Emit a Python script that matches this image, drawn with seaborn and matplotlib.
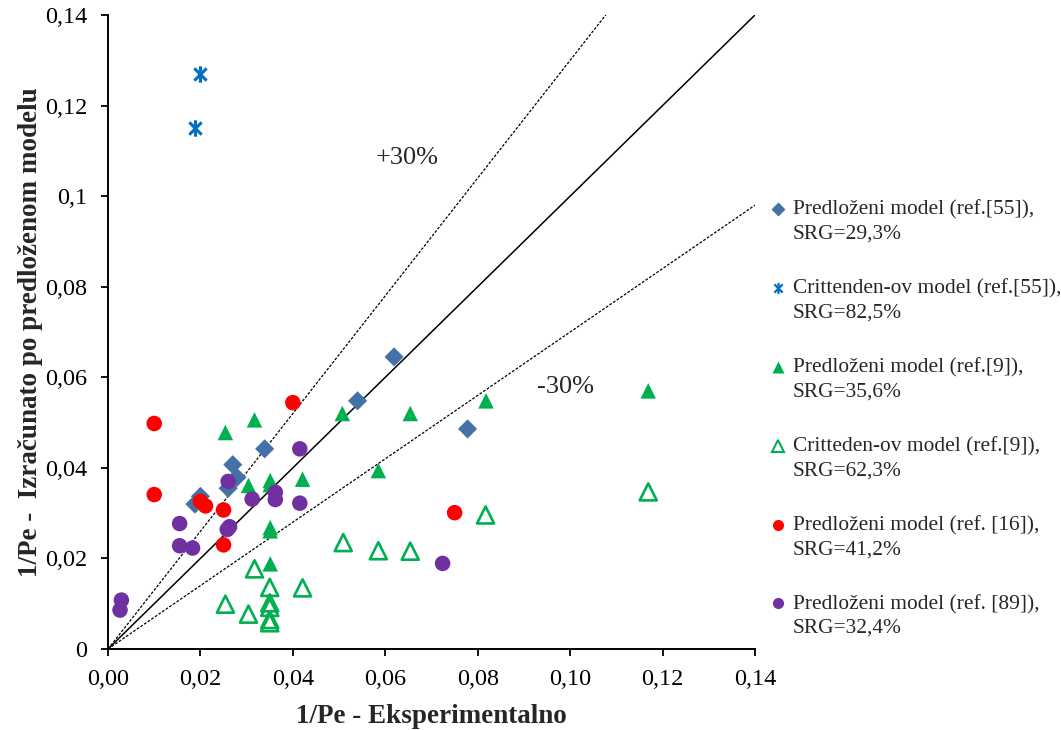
import numpy as np
import pandas as pd
import matplotlib
matplotlib.use("Agg")
import matplotlib.pyplot as plt
from matplotlib.path import Path
from matplotlib.lines import Line2D
from matplotlib.legend_handler import HandlerLine2D
import seaborn as sns

# ---- data ----
dia_x = [0.0188, 0.0200, 0.0270, 0.0279, 0.0260, 0.0339, 0.0540, 0.0619, 0.0778]
dia_y = [0.0320, 0.0337, 0.0407, 0.0379, 0.0355, 0.0442, 0.0548, 0.0645, 0.0486]

star_x = [0.0200, 0.0189]
star_y = [0.1269, 0.1150]

tri_x = [0.0254, 0.0317, 0.0304, 0.0351, 0.0351, 0.0421, 0.0351, 0.0351, 0.0351,
         0.0507, 0.0654, 0.0818, 0.0585, 0.1169]
tri_y = [0.0478, 0.0506, 0.0361, 0.0372, 0.0363, 0.0375, 0.0268, 0.0261, 0.0188,
         0.0520, 0.0520, 0.0548, 0.0394, 0.0570]

otri_x = [0.0254, 0.0317, 0.0304, 0.0350, 0.0350, 0.0350, 0.0350, 0.0350, 0.0421,
          0.0509, 0.0585, 0.0654, 0.0817, 0.1169]
otri_y = [0.0099, 0.0177, 0.0077, 0.0136, 0.0102, 0.0092, 0.0065, 0.0058, 0.0135,
          0.0235, 0.0217, 0.0216, 0.0296, 0.0347]

red_x = [0.0100, 0.0100, 0.0200, 0.0211, 0.0250, 0.0250, 0.0400, 0.0750]
red_y = [0.0498, 0.0341, 0.0326, 0.0316, 0.0307, 0.0230, 0.0544, 0.0301]

pur_x = [0.0029, 0.0026, 0.0155, 0.0155, 0.0183, 0.0260, 0.0263, 0.0258, 0.0312,
         0.0362, 0.0362, 0.0415, 0.0415, 0.0724]
pur_y = [0.0108, 0.0086, 0.0277, 0.0228, 0.0223, 0.0370, 0.0270, 0.0264, 0.0331,
         0.0346, 0.0330, 0.0442, 0.0322, 0.0189]

labels = [
    "Predloženi model (ref.[55]),\nSRG=29,3%",
    "Crittenden-ov model (ref.[55]),\nSRG=82,5%",
    "Predloženi model (ref.[9]),\nSRG=35,6%",
    "Critteden-ov model (ref.[9]),\nSRG=62,3%",
    "Predloženi model (ref. [16]),\nSRG=41,2%",
    "Predloženi model (ref. [89]),\nSRG=32,4%",
]

x_ticks = [0.00, 0.02, 0.04, 0.06, 0.08, 0.10, 0.12, 0.14]
x_tick_labels = ["0,00", "0,02", "0,04", "0,06", "0,08", "0,10", "0,12", "0,14"]
y_ticks = [0, 0.02, 0.04, 0.06, 0.08, 0.10, 0.12, 0.14]
y_tick_labels = ["0", "0,02", "0,04", "0,06", "0,08", "0,1", "0,12", "0,14"]

# ---- style ----
sns.set_theme(style="white")
plt.rcParams['font.family'] = ['Liberation Serif', 'DejaVu Serif']

fig = plt.figure(figsize=(10.61, 7.30), dpi=100)
ax = fig.add_axes([108 / 1061, 81 / 730, 647 / 1061, 634 / 730])

# excel-like star marker: vertical line + X
star_path = Path(
    [(0, -1), (0, 1), (-0.75, -0.75), (0.75, 0.75), (-0.75, 0.75), (0.75, -0.75)],
    [Path.MOVETO, Path.LINETO, Path.MOVETO, Path.LINETO, Path.MOVETO, Path.LINETO])

c_blue = "#4472A8"
c_star = "#0070C0"
c_green = "#00B050"
c_red = "#FF0000"
c_pur = "#7030A0"

# reference lines
lx = np.array([0, 0.14])
ax.plot(lx, lx, color="black", lw=1.1, zorder=1)
ax.plot(lx, 1.3 * lx, color="black", lw=0.9, ls=(0, (2.2, 1.3)), zorder=1)
ax.plot(lx, 0.7 * lx, color="black", lw=0.9, ls=(0, (2.2, 1.3)), zorder=1)

sns.scatterplot(x=dia_x, y=dia_y, marker="D", s=95, color=c_blue, edgecolor="none", ax=ax, zorder=3)
ax.scatter(star_x, star_y, marker=star_path, s=140, color=c_star, linewidths=2.2, zorder=3)
sns.scatterplot(x=tri_x, y=tri_y, marker="^", s=125, color=c_green, edgecolor="none", ax=ax, zorder=3)
ax.scatter(otri_x, otri_y, marker="^", s=150, facecolors="none", edgecolors=c_green, linewidths=1.9, zorder=3)
sns.scatterplot(x=red_x, y=red_y, marker="o", s=125, color=c_red, edgecolor="none", ax=ax, zorder=3)
sns.scatterplot(x=pur_x, y=pur_y, marker="o", s=125, color=c_pur, edgecolor="none", ax=ax, zorder=3)

ax.set_xlim(0, 0.14)
ax.set_ylim(0, 0.14)
ax.set_xticks(x_ticks)
ax.set_xticklabels(x_tick_labels)
ax.set_yticks(y_ticks)
ax.set_yticklabels(y_tick_labels)
ax.tick_params(axis="both", direction="out", length=5, width=1.3, labelsize=17.5,
               bottom=True, left=True, colors="black")
ax.tick_params(axis="y", pad=10)
ax.tick_params(axis="x", pad=9.5)
for side in ["top", "right"]:
    ax.spines[side].set_visible(False)
for side in ["left", "bottom"]:
    ax.spines[side].set_color("black")
    ax.spines[side].set_linewidth(1.4)

ax.set_xlabel("1/Pe - Eksperimentalno", fontsize=19.5, fontweight="bold", labelpad=10)
ax.set_ylabel("1/Pe -  Izračunato po predloženom modelu", fontsize=19.5, fontweight="bold", labelpad=1)

ax.text(0.0648, 0.1085, "+30%", fontsize=19, ha="center", va="center")
ax.text(0.0991, 0.0579, "-30%", fontsize=19, ha="center", va="center")


class UpHandler(HandlerLine2D):
    def __init__(self, dy=9.0, **kw):
        super().__init__(**kw)
        self.dy = dy

    def create_artists(self, legend, orig_handle, xdescent, ydescent, width, height, fontsize, trans):
        artists = super().create_artists(legend, orig_handle, xdescent, ydescent, width, height, fontsize, trans)
        for a in artists:
            yd = np.asarray(a.get_ydata(), dtype=float)
            a.set_ydata(yd + self.dy)
        return artists


handles = [
    Line2D([], [], ls="none", marker="D", ms=7, color=c_blue, mec="none"),
    Line2D([], [], ls="none", marker=star_path, ms=8, mew=1.6, color=c_star),
    Line2D([], [], ls="none", marker="^", ms=8, color=c_green, mec="none"),
    Line2D([], [], ls="none", marker="^", ms=8, mfc="none", mew=1.5, mec=c_green),
    Line2D([], [], ls="none", marker="o", ms=8, color=c_red, mec="none"),
    Line2D([], [], ls="none", marker="o", ms=8, color=c_pur, mec="none"),
]
leg = fig.legend(handles, labels, loc="upper left", bbox_to_anchor=(761 / 1061, 1 - 192 / 730),
                 frameon=False, fontsize=15.4, labelspacing=1.66, handlelength=0.8,
                 handletextpad=0.3, borderaxespad=0,
                 handler_map={Line2D: UpHandler(dy=9.0)})
for t in leg.get_texts():
    t.set_linespacing(1.35)

fig.savefig("out.png", dpi=100)
